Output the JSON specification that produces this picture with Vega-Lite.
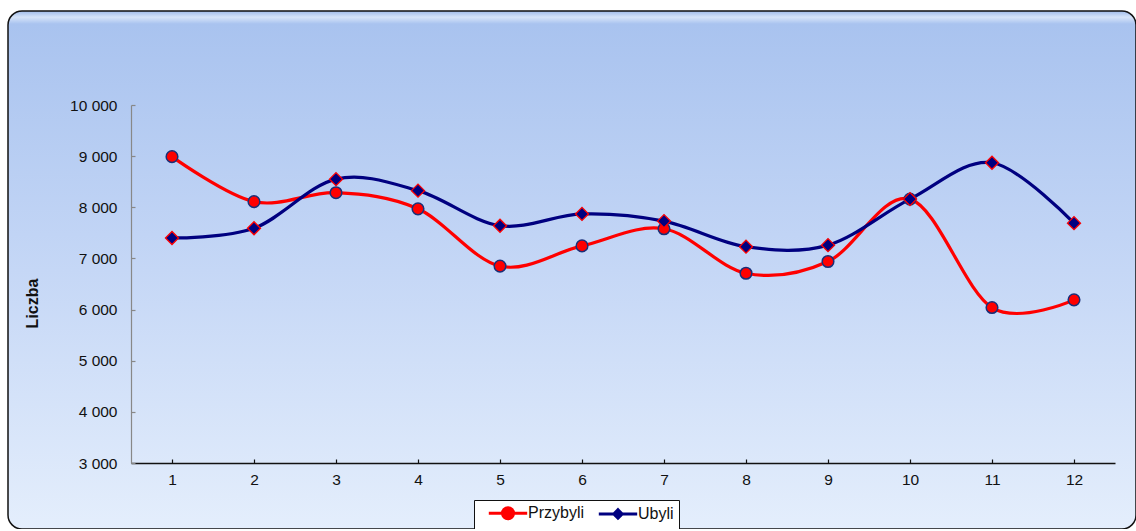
{
  "$schema": "https://vega.github.io/schema/vega-lite/v6.json",
  "autosize": {"type": "none"},
  "padding": {"left": 8, "top": 11, "right": 0, "bottom": 0},
  "width": 1128,
  "height": 518,
  "background": "white",
  "config": {
    "font": "Liberation Sans",
    "view": {
      "stroke": "#111111",
      "strokeWidth": 1.5,
      "cornerRadius": 14,
      "fill": {
        "gradient": "linear",
        "x1": 0, "y1": 0, "x2": 0, "y2": 1,
        "stops": [
          {"offset": 0, "color": "#9fbbea"},
          {"offset": 0.012, "color": "#d6e4f9"},
          {"offset": 0.025, "color": "#a9c3ef"},
          {"offset": 0.5, "color": "#c5d7f6"},
          {"offset": 1, "color": "#e4eefc"}
        ]
      }
    }
  },
  "data": {
    "values": [
      {"m": 1, "s": "Przybyli", "v": 8990},
      {"m": 2, "s": "Przybyli", "v": 8110},
      {"m": 3, "s": "Przybyli", "v": 8285},
      {"m": 4, "s": "Przybyli", "v": 7970},
      {"m": 5, "s": "Przybyli", "v": 6850},
      {"m": 6, "s": "Przybyli", "v": 7245},
      {"m": 7, "s": "Przybyli", "v": 7580},
      {"m": 8, "s": "Przybyli", "v": 6710},
      {"m": 9, "s": "Przybyli", "v": 6940},
      {"m": 10, "s": "Przybyli", "v": 8160},
      {"m": 11, "s": "Przybyli", "v": 6040},
      {"m": 12, "s": "Przybyli", "v": 6190},
      {"m": 1, "s": "Ubyli", "v": 7400},
      {"m": 2, "s": "Ubyli", "v": 7590},
      {"m": 3, "s": "Ubyli", "v": 8550},
      {"m": 4, "s": "Ubyli", "v": 8325},
      {"m": 5, "s": "Ubyli", "v": 7640},
      {"m": 6, "s": "Ubyli", "v": 7870},
      {"m": 7, "s": "Ubyli", "v": 7730},
      {"m": 8, "s": "Ubyli", "v": 7230},
      {"m": 9, "s": "Ubyli", "v": 7260},
      {"m": 10, "s": "Ubyli", "v": 8160},
      {"m": 11, "s": "Ubyli", "v": 8870},
      {"m": 12, "s": "Ubyli", "v": 7690}
    ]
  },
  "encoding": {
    "x": {
      "field": "m",
      "type": "ordinal",
      "scale": {"type": "point", "range": [123, 1107], "padding": 0.5},
      "axis": {
        "title": null,
        "orient": "bottom",
        "offset": -66,
        "labelAngle": 0,
        "domainColor": "#111111",
        "domainWidth": 1.5,
        "tickColor": "#111111",
        "tickSize": -4,
        "tickWidth": 1.2,
        "labelPadding": 13,
        "labelFontSize": 15.5,
        "labelColor": "#111111",
        "grid": false
      }
    },
    "y": {
      "field": "v",
      "type": "quantitative",
      "scale": {"domain": [3000, 10000], "range": [452, 94], "nice": false, "zero": false},
      "axis": {
        "title": "Liczba",
        "orient": "left",
        "offset": -123,
        "values": [3000, 4000, 5000, 6000, 7000, 8000, 9000, 10000],
        "labelExpr": "replace(format(datum.value, ','), ',', ' ')",
        "grid": false,
        "domainColor": "#888888",
        "domainWidth": 1.2,
        "tickColor": "#888888",
        "tickSize": -4,
        "tickWidth": 1.2,
        "labelPadding": 18,
        "labelFontSize": 15.5,
        "labelColor": "#111111",
        "titleFontSize": 16,
        "titleFontWeight": "bold",
        "titleColor": "#111111",
        "titleX": -99,
        "titleY": 292,
        "titleAngle": -90,
        "titleAlign": "center",
        "titleBaseline": "middle"
      }
    }
  },
  "layer": [
    {
      "mark": {"type": "line", "interpolate": "cardinal", "tension": 0, "strokeWidth": 3.2},
      "encoding": {
        "color": {
          "field": "s",
          "type": "nominal",
          "scale": {"domain": ["Przybyli", "Ubyli"], "range": ["#ff0000", "#000080"]},
          "legend": {
            "title": null,
            "orient": "none",
            "legendX": 466,
            "legendY": 489,
            "direction": "horizontal",
            "fillColor": "white",
            "strokeColor": "#111111",
            "padding": 5,
            "symbolSize": 144,
            "symbolOffset": 21,
            "symbolStrokeWidth": 3,
            "labelFontSize": 16,
            "labelColor": "#111111",
            "labelOffset": 12,
            "columnPadding": 4,
            "encode": {
              "symbols": {
                "update": {
                  "shape": {"signal": "datum.value === 'Przybyli' ? 'M-3.2,0H3.2M-0.92,0A0.92,0.92,0,1,1,0.92,0A0.92,0.92,0,1,1,-0.92,0Z' : 'M-3.2,0H3.2M0,-0.7L0.7,0L0,0.7L-0.7,0Z'"},
                  "fill": {"signal": "datum.value === 'Przybyli' ? '#ff0000' : '#000080'"},
                  "opacity": {"value": 1}
                }
              }
            }
          }
        }
      }
    },
    {
      "transform": [{"filter": "datum.s === 'Przybyli'"}],
      "mark": {"type": "point", "shape": "circle", "filled": true, "fill": "#ff0000", "stroke": "#1a2f78", "strokeWidth": 1.5, "size": 135, "opacity": 1}
    },
    {
      "transform": [{"filter": "datum.s === 'Ubyli'"}],
      "mark": {"type": "point", "shape": "diamond", "filled": true, "fill": "#000080", "stroke": "#ff0000", "strokeWidth": 1.3, "size": 170, "opacity": 1}
    }
  ]
}
